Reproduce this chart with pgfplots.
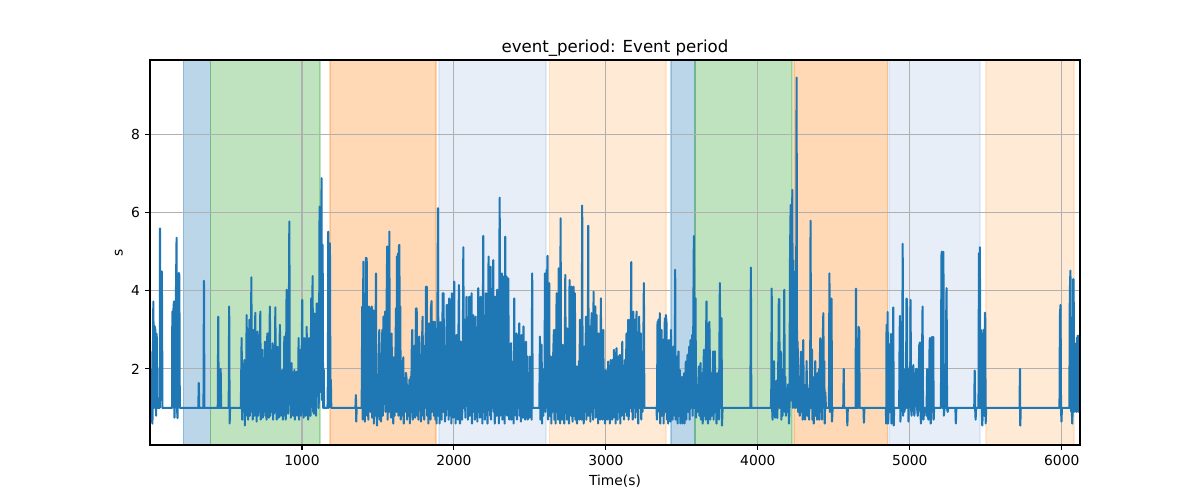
\documentclass[border=0pt]{standalone}
\usepackage{fontspec}
\setmainfont{DejaVu Sans}
\usepackage{pgfplots}
\pgfplotsset{compat=1.18}
\definecolor{tabblue}{RGB}{31,119,180}
\definecolor{tablblue}{RGB}{174,199,232}
\definecolor{tabgreen}{RGB}{44,160,44}
\definecolor{taborange}{RGB}{255,127,14}
\definecolor{tablorange}{RGB}{255,187,120}
\definecolor{gridgray}{RGB}{176,176,176}
\pgfplotsset{
  span/.style={fill=#1, fill opacity=0.3, draw=#1, draw opacity=0.3, line width=1bp}
}
\begin{document}
\begin{tikzpicture}
\path[use as bounding box] (-108bp,-39.6bp) rectangle (756bp,320.4bp);
\begin{axis}[
  at={(0,0)}, anchor=south west,
  width=669.6bp, height=277.2bp, scale only axis,
  xmin=0, xmax=6120, ymin=0.05, ymax=9.92,
  xtick={1000,2000,3000,4000,5000,6000},
  ytick={2,4,6,8},
  axis line style={line width=0.8bp, black},
  tick style={line width=0.8bp, black},
  major tick length=3.5bp,
  tick align=outside,
  xtick pos=lower, ytick pos=left,
  /pgf/number format/assume math mode=true,
  /pgf/number format/1000 sep={},
  tick label style={font=\fontsize{10}{12}\selectfont},
  xticklabel style={anchor=north, inner sep=0pt, yshift=-3.5bp},
  yticklabel style={anchor=east, inner sep=0pt, xshift=-3.5bp},
  title={event\_period: Event period},
  title style={font=\fontsize{12}{14}\selectfont, at={(axis description cs:0.5,1)}, anchor=base, yshift=-0.5bp, inner sep=0pt},
  xlabel={Time(s)},
  xlabel style={font=\fontsize{10}{12}\selectfont, at={(axis description cs:0.5,0)}, anchor=base, yshift=-29.5bp, inner sep=0pt},
  ylabel={s},
  ylabel style={font=\fontsize{10}{12}\selectfont, at={(axis description cs:0,0.5)}, anchor=base, yshift=19.7bp, inner sep=0pt},
]
% shaded periods
\addplot[span=tabblue] coordinates {(219,-1) (219,11) (397,11) (397,-1)} -- cycle;
\addplot[span=tabgreen] coordinates {(397,-1) (397,11) (1118,11) (1118,-1)} -- cycle;
\addplot[span=taborange] coordinates {(1184,-1) (1184,11) (1881,11) (1881,-1)} -- cycle;
\addplot[span=tablblue] coordinates {(1901,-1) (1901,11) (2605,11) (2605,-1)} -- cycle;
\addplot[span=tablorange] coordinates {(2627,-1) (2627,11) (3395,11) (3395,-1)} -- cycle;
\addplot[span=tabblue] coordinates {(3428,-1) (3428,11) (3586,11) (3586,-1)} -- cycle;
\addplot[span=tabgreen] coordinates {(3586,-1) (3586,11) (4224,11) (4224,-1)} -- cycle;
\addplot[span=taborange] coordinates {(4238,-1) (4238,11) (4854,11) (4854,-1)} -- cycle;
\addplot[span=tablblue] coordinates {(4863,-1) (4863,11) (5461,11) (5461,-1)} -- cycle;
\addplot[span=tablorange] coordinates {(5501,-1) (5501,11) (6080,11) (6080,-1)} -- cycle;
% grid over the shaded periods
\foreach \gx in {1000,2000,3000,4000,5000,6000} {
  \edef\tmp{\noexpand\draw[gridgray, line width=0.8bp] (axis cs:\gx,0.05) -- (axis cs:\gx,9.92);}\tmp
}
\foreach \gy in {2,4,6,8} {
  \edef\tmp{\noexpand\draw[gridgray, line width=0.8bp] (axis cs:0,\gy) -- (axis cs:6120,\gy);}\tmp
}
% event period series
\addplot[color=tabblue, line width=1.5bp, line join=round, mark=none] coordinates {
(2,2.45) (6,0.65) (11,1.6) (16,0.6) (22,3.73) (26,1.0) (30,3.1) (35,3.0) (40,0.8) (44,2.9) (48,1.0) (64,1.0) (66,5.6) (70,1.2) (78,4.5) (82,1.0)
(145,1.0) (147,3.47) (150,1.3) (155,3.6) (158,3.73) (161,0.75) (166,1.5) (171,4.0) (175,5.36) (178,1.0) (181,0.74) (186,2.2) (190,4.46) (193,4.4) (196,1.0)
(318,1.0) (321,1.64) (324,1.0) (352,1.0) (355,4.26) (358,1.0) (446,1.0) (449,3.34) (452,1.0) (462,1.0) (465,2.0) (468,1.0) (518,1.0) (521,3.6) (524,0.6) (527,1.0) (598,1.0)
(603,2.79) (606,0.7) (609,1.9) (612,0.9) (616,1.5) (621,2.23) (624,0.55) (628,1.7) (632,0.8) (636,3.38) (639,1.1) (642,2.4) (646,0.7) (650,1.8) (654,3.26) (657,0.8) (660,2.2) (663,0.9) (667,4.35) (670,1.2) (673,2.1) (676,0.7) (680,3.0) (683,0.9) (686,2.3) (689,0.8) (693,3.44) (696,1.1) (699,1.9) (702,0.65) (705,2.6) (708,2.96) (711,0.8) (714,1.6) (718,0.9) (722,2.2) (726,3.47) (729,0.7) (732,1.8) (735,1.0) (739,2.49) (742,0.75) (745,2.0) (749,0.9) (753,1.7) (757,2.70) (760,0.8) (763,2.3) (767,0.7) (772,2.91) (775,1.0) (778,1.9) (782,0.75) (785,2.5) (789,3.60) (792,0.8) (795,2.1) (799,0.9) (803,1.6) (807,2.66) (810,0.7) (813,2.2) (817,0.85) (821,1.8) (825,3.58) (828,0.9) (831,2.0) (834,0.7) (838,2.57) (841,1.0) (844,1.7) (847,0.75) (851,2.2) (855,3.13) (858,0.8) (861,1.6) (864,0.9) (868,1.9) (871,1.97) (874,0.7) (877,1.5) (880,1.0) (884,2.83) (887,0.8) (890,1.9) (893,0.7) (896,2.5) (899,4.03) (902,1.0) (905,2.2) (909,0.85) (913,2.6) (917,5.78) (920,1.1) (923,1.8) (927,0.75) (932,2.15) (935,0.9) (938,1.6) (942,0.8) (946,1.7) (950,1.97) (953,0.7) (956,1.4) (960,0.9) (965,1.93) (968,0.8) (971,1.6) (974,1.0) (978,2.79) (981,0.7) (984,1.8) (987,0.9) (991,2.49) (994,0.8) (997,1.9) (1002,3.77) (1005,0.9) (1008,2.0) (1011,0.75) (1015,2.79) (1018,1.0) (1021,1.7) (1025,0.8) (1031,3.08) (1034,0.9) (1037,1.8) (1041,0.7) (1046,2.79) (1049,1.0) (1052,2.1) (1056,0.8) (1061,3.81) (1064,1.2) (1067,2.6) (1070,4.38) (1073,0.9) (1076,2.0) (1079,0.85) (1083,3.42) (1086,1.1) (1090,2.4) (1093,0.8) (1097,3.68) (1100,1.3) (1103,2.5) (1107,3.68) (1110,1.0) (1113,2.8) (1116,6.16) (1119,2.0) (1123,3.5) (1126,1.4) (1129,6.89) (1132,1.2) (1136,5.18) (1139,1.0) (1143,2.0) (1146,1.0) (1168,1.0) (1171,1.8) (1173,5.52) (1176,1.0) (1180,3.0) (1184,5.22) (1187,1.4) (1190,1.72) (1193,1.0)
(1352,1.0) (1355,1.33) (1357,0.65) (1360,1.0) (1393,1.0)
(1397,3.6) (1400,0.7) (1404,4.75) (1407,1.2) (1411,2.0) (1414,0.65) (1418,1.8) (1421,4.85) (1424,1.0) (1426,4.84) (1429,0.8) (1433,2.2) (1437,0.7) (1441,3.6) (1444,1.3) (1448,3.55) (1451,0.9) (1455,2.1) (1459,3.6) (1462,0.75) (1466,1.9) (1470,3.5) (1473,0.6) (1477,1.6) (1480,0.8) (1484,2.4) (1487,4.45) (1490,1.0) (1494,0.55) (1498,1.6) (1502,0.8) (1506,2.0) (1509,3.0) (1512,0.7) (1516,1.8) (1520,0.65) (1524,2.2) (1529,3.0) (1532,0.8) (1536,3.34) (1539,1.1) (1543,2.2) (1547,3.47) (1550,0.9) (1554,2.4) (1558,3.98) (1561,5.14) (1564,0.7) (1567,2.6) (1569,4.5) (1572,1.2) (1575,5.52) (1578,0.9) (1582,2.7) (1586,0.75) (1590,2.91) (1593,1.1) (1597,1.8) (1601,0.6) (1605,2.3) (1609,0.8) (1614,2.0) (1619,3.55) (1622,0.9) (1625,4.88) (1628,1.4) (1632,4.96) (1635,0.8) (1638,5.15) (1641,5.18) (1644,1.0) (1647,3.6) (1650,0.7) (1654,2.2) (1658,0.8) (1662,1.7) (1667,2.3) (1670,0.6) (1674,1.5) (1678,0.9) (1684,1.9) (1689,1.72) (1692,0.7) (1697,1.4) (1702,0.8) (1707,1.72) (1710,0.6) (1715,1.8) (1719,0.9) (1722,2.4) (1726,3.0) (1729,0.7) (1733,2.0) (1737,0.8) (1741,2.6) (1745,0.75) (1750,3.55) (1753,1.0) (1755,3.55) (1758,0.8) (1762,2.2) (1766,0.7) (1772,2.83) (1775,1.0) (1779,1.8) (1783,0.65) (1788,2.3) (1794,3.34) (1797,0.8) (1801,1.5) (1805,0.7) (1809,2.6) (1813,1.0) (1816,4.11) (1819,1.2) (1821,4.11) (1824,0.8) (1828,2.4) (1832,0.6) (1836,3.17) (1839,1.1) (1843,2.0) (1846,0.7) (1849,3.55) (1853,3.74) (1856,0.9) (1860,2.3) (1865,3.21) (1868,0.8) (1872,2.5) (1875,3.21) (1878,0.7) (1882,1.9) (1886,0.6) (1890,2.3)
(1895,6.12) (1898,0.8) (1902,2.0) (1906,0.6) (1910,3.2) (1913,1.2) (1916,2.49) (1919,0.7) (1922,1.8) (1926,3.94) (1929,0.9) (1932,3.94) (1935,1.4) (1938,2.6) (1941,0.65) (1945,2.2) (1949,0.8) (1952,3.64) (1956,3.64) (1959,1.0) (1962,2.4) (1965,0.7) (1969,3.81) (1972,1.3) (1974,3.77) (1977,0.8) (1980,2.2) (1983,0.6) (1987,3.94) (1990,1.1) (1993,2.8) (1996,0.75) (1999,2.0) (2002,4.24) (2005,1.0) (2008,2.5) (2011,0.6) (2014,1.7) (2018,2.87) (2021,0.8) (2024,2.2) (2027,0.7) (2030,3.0) (2033,4.15) (2036,1.2) (2040,0.6) (2044,2.70) (2047,0.9) (2051,2.2) (2054,0.7) (2058,1.9) (2062,5.12) (2065,1.0) (2068,2.4) (2072,3.26) (2075,0.75) (2079,2.0) (2083,3.85) (2086,1.1) (2089,2.6) (2092,0.7) (2096,2.2) (2101,3.85) (2104,0.8) (2108,2.5) (2112,1.0) (2116,3.94) (2119,0.6) (2123,2.0) (2127,3.38) (2130,0.9) (2134,2.4) (2138,0.7) (2143,3.34) (2146,1.0) (2150,2.2) (2154,0.65) (2157,1.8) (2160,4.07) (2163,0.9) (2167,2.6) (2171,0.75) (2176,3.85) (2179,1.2) (2183,2.3) (2187,0.6) (2190,2.8) (2193,5.41) (2196,0.9) (2200,2.5) (2204,0.7) (2207,2.0) (2211,3.94) (2214,1.0) (2218,2.9) (2221,0.6) (2225,2.4) (2228,4.88) (2231,1.1) (2234,2.2) (2238,0.8) (2241,4.62) (2244,0.7) (2248,2.6) (2252,1.0) (2255,3.0) (2259,4.79) (2262,0.9) (2266,2.3) (2269,0.6) (2272,3.85) (2275,1.2) (2279,2.7) (2282,0.8) (2285,4.03) (2288,1.0) (2292,2.4) (2296,0.6) (2298,3.5) (2301,6.39) (2304,0.8) (2308,2.6) (2312,1.1) (2316,4.45) (2319,0.7) (2322,2.3) (2325,4.37) (2328,1.0) (2331,2.5) (2334,0.6) (2338,5.39) (2341,0.9) (2344,2.4) (2347,4.37) (2350,0.8) (2354,2.2) (2358,4.32) (2361,1.0) (2364,0.7) (2368,2.0) (2371,0.85) (2375,2.66) (2378,0.7) (2382,1.9) (2386,0.9) (2390,2.2) (2393,0.6) (2397,3.81) (2400,1.0) (2404,2.0) (2408,0.8) (2412,2.91) (2415,0.7) (2419,1.8) (2423,1.0) (2426,2.4) (2430,3.17) (2433,0.8) (2437,1.9) (2441,0.65) (2445,2.87) (2448,1.0) (2452,2.1) (2455,0.75) (2458,3.09) (2461,0.9) (2465,1.7) (2469,0.7) (2474,2.70) (2477,1.0) (2480,0.8) (2483,2.32) (2486,0.7) (2490,1.8) (2494,1.0) (2497,0.75) (2500,2.32) (2503,0.9) (2507,1.6) (2511,0.7) (2515,4.45) (2518,1.0) (2522,1.0) (2562,1.0)
(2566,2.83) (2569,0.7) (2573,1.6) (2577,2.62) (2580,0.6) (2584,1.5) (2588,0.8) (2592,2.0) (2596,1.0) (2599,4.45) (2602,0.9) (2606,2.6) (2610,4.54) (2613,1.0) (2616,4.90) (2619,0.7) (2623,2.2) (2627,4.20) (2630,0.8) (2634,1.6) (2638,2.32) (2641,0.6) (2645,1.8) (2649,0.9) (2653,2.3) (2658,3.0) (2661,0.7) (2665,1.9) (2669,0.6) (2672,2.4) (2676,3.94) (2679,0.9) (2683,2.6) (2686,0.7) (2689,4.58) (2692,1.1) (2696,2.5) (2699,0.6) (2702,5.86) (2705,1.0) (2709,2.0) (2712,0.7) (2715,2.62) (2718,0.9) (2722,1.9) (2726,0.6) (2730,2.6) (2733,4.41) (2736,1.0) (2740,2.2) (2743,0.7) (2746,3.04) (2749,0.9) (2753,2.4) (2757,0.6) (2761,4.28) (2764,1.0) (2768,2.7) (2771,0.8) (2774,4.11) (2777,1.1) (2781,0.65) (2784,2.5) (2787,4.11) (2790,0.8) (2793,2.0) (2796,3.94) (2799,0.7) (2803,1.6) (2807,2.06) (2810,0.6) (2814,1.7) (2818,0.9) (2822,2.2) (2826,0.7) (2829,3.26) (2832,1.0) (2836,2.4) (2840,0.7) (2842,3.0) (2844,6.19) (2847,1.1) (2851,2.2) (2854,0.6) (2858,2.57) (2861,0.9) (2865,2.0) (2869,3.34) (2872,0.7) (2876,2.5) (2880,1.0) (2884,5.67) (2887,0.8) (2891,2.2) (2895,3.09) (2898,0.65) (2902,2.0) (2906,3.43) (2909,0.9) (2913,2.4) (2916,0.7) (2919,3.98) (2922,1.0) (2926,2.2) (2930,3.60) (2933,0.75) (2936,2.0) (2939,3.38) (2942,0.9) (2946,2.3) (2949,0.6) (2952,2.91) (2955,1.0) (2959,2.0) (2963,0.7) (2967,3.81) (2970,1.2) (2974,2.4) (2978,0.7) (2983,3.0) (2986,0.8) (2990,1.7) (2994,0.6) (2998,1.97) (3001,0.9) (3005,1.5) (3009,0.7) (3015,2.19) (3018,0.8) (3022,1.6) (3026,0.6) (3031,2.23) (3034,0.9) (3038,1.8) (3041,0.7) (3044,2.23) (3047,1.0) (3050,0.75) (3053,2.49) (3056,0.9) (3060,1.9) (3064,0.6) (3070,2.53) (3073,1.0) (3077,0.7) (3081,2.32) (3084,0.9) (3088,1.7) (3092,2.36) (3095,0.6) (3100,1.9) (3104,0.8) (3108,2.70) (3111,1.0) (3115,1.8) (3119,0.7) (3125,2.23) (3128,0.9) (3132,2.0) (3136,2.91) (3139,0.8) (3143,2.2) (3147,3.26) (3150,0.7) (3154,2.4) (3158,3.26) (3161,1.0) (3164,2.8) (3167,4.74) (3170,0.9) (3174,2.5) (3177,0.7) (3180,3.47) (3183,1.0) (3187,2.2) (3191,3.26) (3194,0.75) (3198,2.5) (3202,3.47) (3205,0.9) (3209,2.2) (3213,0.6) (3219,3.34) (3222,1.0) (3226,2.0) (3230,2.91) (3233,0.7) (3237,1.8) (3241,0.9) (3246,2.4) (3250,4.2) (3253,1.0) (3259,1.0) (3333,1.0)
(3336,0.7) (3340,3.21) (3343,0.9) (3346,3.26) (3349,1.0) (3352,2.2) (3355,3.43) (3358,0.6) (3362,2.0) (3366,3.0) (3369,0.8) (3373,1.9) (3377,2.74) (3380,0.6) (3384,2.3) (3388,3.30) (3391,0.9) (3395,3.38) (3399,3.17) (3402,0.7) (3406,1.8) (3410,0.6) (3415,2.74) (3418,1.0) (3422,2.0) (3425,0.65) (3428,3.0) (3431,0.9) (3435,1.9) (3439,0.7) (3443,2.57) (3446,1.0) (3450,2.0) (3453,0.8) (3456,4.54) (3459,0.7) (3463,1.7) (3466,0.9) (3469,2.32) (3472,0.6) (3475,1.8) (3478,2.45) (3481,0.8) (3484,1.5) (3487,1.97) (3490,0.6) (3494,1.4) (3498,0.7) (3502,1.80) (3505,0.6) (3509,1.3) (3512,0.8) (3515,1.89) (3518,0.6) (3522,1.5) (3526,2.19) (3529,0.7) (3533,1.6) (3537,2.36) (3540,0.9) (3544,1.8) (3548,2.57) (3551,0.7) (3554,2.0) (3557,2.74) (3560,1.0) (3564,2.2) (3568,2.87) (3571,0.8) (3575,3.0) (3579,5.41) (3582,1.0) (3586,2.2) (3590,3.81) (3593,0.75) (3597,1.3) (3601,1.46) (3604,0.9) (3608,1.6) (3612,2.06) (3615,0.8) (3619,1.7) (3623,2.15) (3626,0.7) (3630,1.5) (3634,1.89) (3637,0.6) (3641,1.7) (3645,2.49) (3648,0.8) (3652,1.9) (3656,0.7) (3659,2.6) (3662,3.73) (3665,0.9) (3669,2.0) (3672,0.6) (3676,3.17) (3679,1.0) (3681,3.21) (3684,2.23) (3687,0.7) (3691,1.6) (3695,1.89) (3698,0.8) (3702,1.7) (3706,2.45) (3709,0.7) (3713,1.8) (3717,2.45) (3720,0.9) (3724,1.6) (3728,0.6) (3733,1.89) (3736,0.8) (3740,1.7) (3744,0.7) (3747,2.4) (3750,4.2) (3753,1.0) (3757,2.0) (3761,3.30) (3764,0.55) (3768,1.0)
(3951,1.0) (3954,4.6) (3957,1.0) (4086,1.0)
(4089,1.6) (4091,4.06) (4094,1.0) (4097,0.7) (4100,2.0) (4104,0.8) (4106,2.2) (4110,1.0) (4114,0.75) (4117,1.63) (4120,0.9) (4124,1.7) (4128,0.74) (4132,1.5) (4136,2.6) (4138,3.79) (4141,3.79) (4144,1.0) (4148,2.0) (4152,2.44) (4155,0.7) (4159,1.6) (4163,0.8) (4167,2.0) (4170,1.0) (4174,4.03) (4177,0.9) (4181,1.8) (4185,0.8) (4189,1.5) (4193,0.9) (4196,1.2) (4200,1.6) (4205,0.6) (4208,1.0) (4212,5.0) (4216,6.2) (4219,1.2) (4223,4.5) (4227,6.59) (4230,1.0) (4233,4.79) (4236,1.5) (4239,2.6) (4242,2.68) (4245,1.0) (4248,4.5) (4251,1.0) (4255,9.47) (4258,1.2) (4262,2.7) (4265,0.9) (4269,1.8) (4273,1.7) (4276,0.8) (4280,2.0) (4284,2.44) (4287,0.9) (4291,1.5) (4295,0.7) (4299,2.74) (4302,1.0) (4306,1.4) (4310,0.7) (4314,1.6) (4318,0.9) (4321,2.2) (4324,0.8) (4328,1.5) (4331,0.9) (4334,1.4) (4337,0.7) (4341,1.6) (4344,1.0) (4347,5.8) (4350,1.0) (4353,2.0) (4356,2.5) (4359,0.7) (4362,1.5) (4365,0.9) (4368,0.6) (4372,1.8) (4375,0.9) (4378,2.2) (4381,0.8) (4384,1.6) (4387,1.5) (4390,0.7) (4394,1.9) (4398,1.0) (4402,2.0) (4405,0.7) (4408,2.2) (4411,2.79) (4414,0.9) (4418,1.8) (4422,0.7) (4426,2.5) (4431,3.43) (4434,1.0) (4437,2.2) (4440,0.6) (4444,1.4) (4448,1.0) (4468,1.0) (4471,4.45) (4474,0.9) (4477,1.5) (4482,3.8) (4485,3.80) (4488,0.65) (4492,1.0)
(4562,1.0) (4565,2.0) (4568,1.0) (4586,1.0) (4589,0.55) (4592,1.0) (4643,1.0) (4646,4.06) (4649,1.0) (4660,1.0) (4663,3.08) (4667,3.0) (4670,1.0) (4695,1.0) (4698,0.62) (4701,1.0) (4842,1.0)
(4845,0.6) (4847,3.13) (4850,1.0) (4854,3.46) (4857,0.6) (4861,1.0) (4866,1.5) (4869,2.64) (4872,0.9) (4876,2.9) (4879,0.6) (4883,1.0) (4888,1.0) (4891,3.58) (4894,0.55) (4897,1.0) (4930,1.0) (4933,2.8) (4935,3.36) (4938,0.65) (4941,1.0) (4950,1.0) (4953,5.21) (4956,0.8) (4960,2.0) (4964,0.9) (4968,1.0) (4972,2.0) (4975,1.0) (4978,3.8) (4981,3.8) (4984,1.0) (4988,1.8) (4991,0.65) (4995,2.0) (5002,1.2) (5005,3.77) (5008,1.0) (5012,0.8) (5016,2.0) (5020,1.5) (5023,2.1) (5026,1.0) (5030,0.8) (5034,1.2) (5040,2.0) (5045,2.0) (5048,1.0) (5052,0.8) (5056,1.0) (5062,2.6) (5067,2.68) (5070,1.0) (5073,0.6) (5077,1.0) (5081,2.5) (5084,3.6) (5087,1.0) (5090,0.7) (5095,1.0) (5105,1.0) (5110,0.8) (5114,2.0) (5117,1.0) (5122,0.7) (5127,1.0) (5130,2.6) (5132,2.79) (5135,0.9) (5138,0.6) (5142,1.0) (5144,2.7) (5146,2.82) (5150,1.0) (5154,2.82) (5157,0.7) (5160,1.0) (5205,1.0) (5208,4.9) (5211,5.01) (5214,1.0) (5218,4.9) (5221,5.0) (5224,0.8) (5228,1.0) (5238,1.0) (5240,3.5) (5242,4.07) (5245,1.0) (5249,0.9) (5253,1.0) (5300,1.0) (5303,0.6) (5306,1.0) (5424,1.0) (5427,1.96) (5430,1.0) (5433,0.7) (5436,1.0) (5452,1.0) (5455,4.97) (5458,1.0) (5461,5.12) (5464,1.0) (5468,3.0) (5472,1.2) (5477,0.55) (5481,1.0) (5485,3.0) (5488,3.0) (5491,0.8) (5494,3.44) (5496,3.44) (5499,0.6) (5503,1.0)
(5722,1.0) (5725,2.0) (5727,0.55) (5730,1.0) (5985,1.0) (5988,3.4) (5992,3.64) (5995,1.0) (5998,0.65) (6001,1.0) (6050,1.0) (6053,3.94) (6057,4.52) (6060,1.0) (6063,0.9) (6066,1.0) (6069,0.6) (6072,1.0) (6075,4.3) (6078,4.3) (6081,0.9) (6084,1.0) (6087,2.64) (6090,1.5) (6093,2.64) (6096,0.9) (6099,2.8) (6102,1.0) (6105,2.85) (6108,0.9) (6111,2.85) (6114,0.95) (6118,2.85)
};
% spines on top, as in the reference
\draw[line width=0.8bp, black] (rel axis cs:0,0) rectangle (rel axis cs:1,1);
\end{axis}
\end{tikzpicture}
\end{document}
